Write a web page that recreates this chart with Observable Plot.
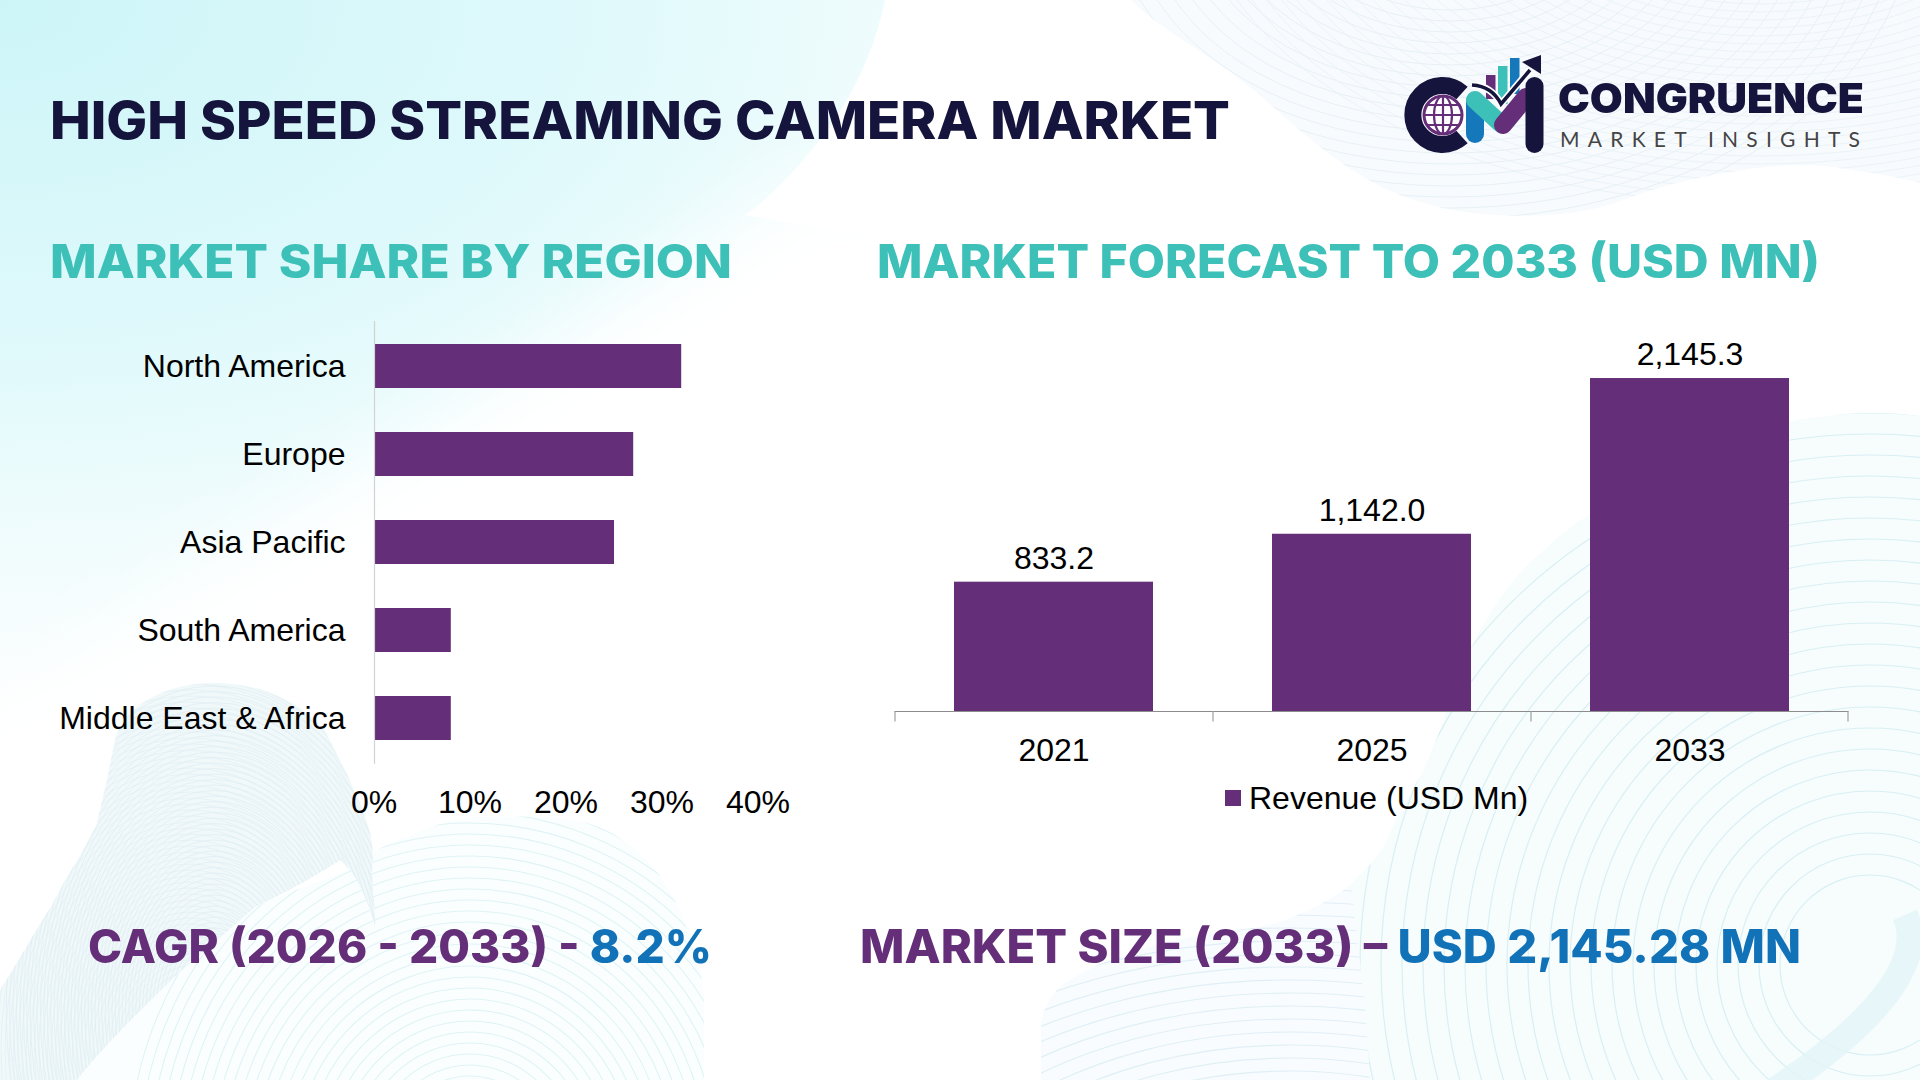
<!DOCTYPE html>
<html>
<head>
<meta charset="utf-8">
<script src="https://cdn.jsdelivr.net/npm/d3@7"></script>
<script src="https://cdn.jsdelivr.net/npm/@observablehq/plot@0.6"></script>
<style>
html,body{margin:0;padding:0;background:#fff;}
#page{position:relative;width:1920px;height:1080px;overflow:hidden;background:#fff;font-family:"Liberation Sans",Arial,sans-serif;}
#bg,#logo{position:absolute;left:0;top:0;}
.chart{position:absolute;}
.chart svg{overflow:visible;background:transparent;}
.head{position:absolute;white-space:nowrap;font-family:Inter,"Open Sans",sans-serif;font-weight:800;line-height:1;transform-origin:left center;}
#legend{position:absolute;left:1225px;top:778px;height:40px;display:flex;align-items:center;font:32px "Liberation Sans",Arial,sans-serif;color:#000;}
#legend i{display:block;width:16px;height:16px;background:#642e78;margin-right:8px;}
</style>
</head>
<body>
<div id="page">
<svg id="bg" width="1920" height="1080"></svg>
<svg id="logo" width="1920" height="1080" viewBox="0 0 1920 1080">
  <circle cx="1444" cy="115" r="23" fill="#fff"/>
  <g fill="none" stroke-linecap="round">
    <path d="M1462,93 A29.5,29.5 0 1 0 1462,137" stroke="#14143c" stroke-width="17" stroke-linecap="butt"/>
    <circle cx="1443" cy="115" r="19" stroke="#642e78" stroke-width="3"/>
    <ellipse cx="1443" cy="115" rx="9" ry="19" stroke="#642e78" stroke-width="2.2"/>
    <path d="M1424,115H1462M1427,105H1459M1427,125H1459M1443,96V134" stroke="#642e78" stroke-width="2.2"/>
  </g>
  <rect x="1486" y="75" width="9.5" height="24" fill="#642e78"/>
  <rect x="1498" y="66" width="9.5" height="38" fill="#3cc0b8"/>
  <rect x="1510" y="58" width="9.5" height="36" fill="#1478bb"/>
  <g fill="none" stroke-linecap="round">
    <path d="M1475,102V134" stroke="#1478bb" stroke-width="18"/>
    <path d="M1475,100L1501,124" stroke="#3cc0b8" stroke-width="18"/>
    <path d="M1503,125L1526,97" stroke="#642e78" stroke-width="18"/>
    <path d="M1534.5,86V144" stroke="#14143c" stroke-width="18"/>
  </g>
  <path d="M1472,85C1488,86 1496,94 1501,104L1530,70" fill="none" stroke="#fff" stroke-width="7"/>
  <path d="M1472,85C1488,86 1496,94 1501,104L1530,70" fill="none" stroke="#14143c" stroke-width="3.5"/>
  <path d="M1522,62L1541,55L1541,74Z" fill="#14143c"/>
</svg>

<div class="head" data-w="1180" data-mid="121" style="left:50px;font-size:52px;color:#14143c;">HIGH SPEED STREAMING CAMERA MARKET</div>
<div class="head" data-w="306" data-mid="98" style="left:1558px;font-size:41px;font-weight:900;color:#14143c;">CONGRUENCE</div>
<div class="head" data-w="300" data-mid="138" data-spaced="1" style="left:1560px;font-size:21px;font-weight:400;font-family:Lato,sans-serif;color:#444;">MARKET INSIGHTS</div>
<div class="head" data-w="682" data-mid="261" style="left:50px;font-size:46px;color:#3cc0b8;">MARKET SHARE BY REGION</div>
<div class="head" data-w="943" data-mid="261" style="left:877px;font-size:46px;color:#3cc0b8;">MARKET FORECAST TO 2033 (USD MN)</div>
<div class="head" data-w="624" data-mid="946" style="left:88px;font-size:46px;color:#642e78;">CAGR (2026 - 2033) - <span style="color:#1272b8">8.2%</span></div>
<div class="head" data-w="941" data-mid="946" style="left:860px;font-size:46px;color:#642e78;">MARKET SIZE (2033) – <span style="color:#1272b8">USD 2,145.28 MN</span></div>

<div id="share" class="chart" style="left:0;top:300px;"></div>
<div id="forecast" class="chart" style="left:860px;top:320px;"></div>
<div id="legend"><i></i><span>Revenue (USD Mn)</span></div>
</div>

<script>
// ---- chart data ----
const regions = ["North America", "Europe", "Asia Pacific", "South America", "Middle East & Africa"];
const regionShares = [32, 27, 25, 8, 8];
const shareTicks = [0, 10, 20, 30, 40];

const years = ["2021", "2025", "2033"];
const revenue = [833.2, 1142.0, 2145.3];

const PURPLE = "#642e78";
const FONT = '"Liberation Sans", Arial, sans-serif';

// ---- left chart ----
const shareRows = regions.map((region, i) => ({region, share: regionShares[i]}));
document.getElementById("share").appendChild(Plot.plot({
  width: 820, height: 540,
  marginLeft: 374, marginRight: 62, marginTop: 21, marginBottom: 76.3,
  style: {background: "transparent", fontFamily: FONT, overflow: "visible"},
  x: {domain: [0, 40], label: null},
  y: {domain: regions, label: null, paddingInner: 0.5, paddingOuter: 0.25},
  marks: [
    Plot.axisY({anchor: "left", tickSize: 0, tickPadding: 29, fontSize: 32, label: null, color: "#000"}),
    Plot.axisX({ticks: shareTicks, tickFormat: d => d + "%", tickSize: 0, tickPadding: 26, dx: -0.5, fontSize: 32, label: null, color: "#000"}),
    Plot.barX(shareRows, {y: "region", x: "share", fill: PURPLE}),
    Plot.ruleX([0], {stroke: "#d2d2d2", strokeWidth: 1.2})
  ]
}));

// ---- right chart ----
const revRows = years.map((year, i) => ({year, value: revenue[i]}));
const STEP = 318;
document.getElementById("forecast").appendChild(Plot.plot({
  width: 1000, height: 520,
  marginLeft: 34.5, marginRight: 11.5, marginTop: 18.5, marginBottom: 129,
  style: {background: "transparent", fontFamily: FONT, overflow: "visible"},
  x: {domain: years, label: null, paddingInner: 0.373, paddingOuter: 0.1865},
  y: {domain: [0, 2400], axis: null},
  marks: [
    Plot.axisX({tickSize: 0, tickPadding: 27, fontSize: 32, label: null, color: "#000"}),
    Plot.barY(revRows, {x: "year", y: "value", fill: PURPLE}),
    Plot.text(revRows, {x: "year", y: "value", dy: -23.5, text: d => d3.format(",.1f")(d.value), fontSize: 32, fill: "#000"}),
    Plot.ruleY([0], {stroke: "#8c8c8c", strokeWidth: 1.2}),
    Plot.ruleX(years, {x: d => d, y1: 0, y2: -68, dx: -STEP / 2, stroke: "#a0a0a0", strokeWidth: 1.2}),
    Plot.ruleX(years.slice(-1), {x: d => d, y1: 0, y2: -68, dx: STEP / 2 - 1, stroke: "#a0a0a0", strokeWidth: 1.2})
  ]
}));

// ---- fit headings to the reference widths ----
document.querySelectorAll(".head").forEach(el => {
  const target = +el.dataset.w;
  const box = el.getBoundingClientRect();
  el.style.top = (+el.dataset.mid - box.height / 2) + "px";
  if (el.dataset.spaced) {
    el.style.letterSpacing = ((target - box.width) / (el.textContent.length - 1)) + "px";
  } else {
    el.style.transform = `scaleX(${target / box.width})`;
  }
});

// ---- decorative background ----
const bg = d3.select("#bg");
const defs = bg.append("defs");
const grad = defs.append("radialGradient").attr("id", "tl").attr("gradientUnits", "userSpaceOnUse")
  .attr("cx", 0).attr("cy", 0).attr("r", 1).attr("gradientTransform", "scale(1300,760)");
grad.append("stop").attr("offset", "0").attr("stop-color", "#cdf5f8");
grad.append("stop").attr("offset", "0.45").attr("stop-color", "#dff9fb");
grad.append("stop").attr("offset", "0.7").attr("stop-color", "#f0fcfd");
grad.append("stop").attr("offset", "1").attr("stop-color", "#ffffff");
bg.append("rect").attr("width", 1000).attr("height", 780).attr("fill", "url(#tl)");
const soft = defs.append("filter").attr("id", "soft").attr("x", "-20%").attr("y", "-20%").attr("width", "140%").attr("height", "140%");
soft.append("feGaussianBlur").attr("stdDeviation", 38);
bg.append("path").attr("d", "M810,175L1100,175V900H-60V745Z").attr("fill", "#fff").attr("filter", "url(#soft)");
bg.append("path").attr("d", "M885,0C870,70 840,120 790,175C770,195 760,205 745,215L1010,260V0Z").attr("fill", "#fff");

function blob(id, d, fill) {
  defs.append("clipPath").attr("id", id).append("path").attr("d", d);
  bg.append("path").attr("d", d).attr("fill", fill);
  return bg.append("g").attr("clip-path", `url(#${id})`);
}
function rings(g, cx, cy, r0, r1, step, rx, color, width) {
  for (let r = r0; r < r1; r += step) {
    g.append("ellipse").attr("cx", cx).attr("cy", cy).attr("rx", r * rx).attr("ry", r)
      .attr("fill", "none").attr("stroke", color).attr("stroke-width", width);
  }
}
// bottom-right shapes
const br2 = blob("br2", "M1041,1080V1023C1045,1000 1060,985 1070,980C1110,955 1140,950 1176,940C1220,930 1265,930 1293,917C1320,905 1340,895 1352,883C1420,880 1700,880 1760,1080Z", "#f8fcfe");
rings(br2, 1290, 1300, 60, 420, 13, 1.5, "#e0eff6", 1.2);
const br1 = blob("br1", "M1370,1080C1365,980 1352,910 1352,883C1370,865 1380,855 1387,840C1400,810 1412,790 1422,773C1435,745 1440,730 1446,713C1455,690 1460,680 1470,650C1495,600 1520,570 1543,551C1560,535 1575,523 1592,514C1650,480 1720,440 1788,422C1830,413 1880,410 1920,416V1080Z", "#f7fcfd");
rings(br1, 1870, 965, 90, 900, 21, 1, "#d8f0f4", 1.2);
bg.append("path").attr("d", "M1905,915C1925,960 1880,1020 1775,1090").attr("fill", "none").attr("stroke", "#e2f5f8").attr("stroke-width", 26).attr("opacity", 0.8);

// top-right wave
const tr = blob("tr", "M1131,0C1160,30 1205,50 1257,93C1300,130 1350,180 1414,200C1470,220 1570,222 1623,200C1690,175 1780,160 1832,167C1870,172 1900,178 1920,183V0Z", "#f8fbfd");
rings(tr, 1450, -90, 100, 330, 11, 1.45, "#e6f0f6", 1);
rings(tr, 1760, -130, 110, 340, 8, 1.7, "#e9f2f7", 0.9);

// bottom-left ribbon with a fine mesh
const blPale = blob("bl2", "M352,867C375,850 390,842 408,837C440,820 475,815 510,817C550,815 590,820 612,833C650,855 668,885 678,907C695,945 704,980 704,1000V1080H77C110,1040 150,1000 179,973C210,945 235,925 255,907C290,890 330,880 352,867Z", "#fbfefe");
rings(blPale, 470, 1160, 40, 360, 11, 0.95, "#dff3f6", 1.1);
const blMesh = blob("bl1", "M0,990C20,960 35,930 51,907C70,870 85,850 97,823C105,790 110,765 115,740C125,705 165,683 214,683C265,683 305,705 326,733C345,770 358,795 365,817C372,835 374,850 372,870C372,890 376,910 375,927C368,900 358,875 340,860C310,880 280,895 255,907C235,925 205,950 179,973C140,1010 100,1050 77,1080H0Z", "#f1f8fa");
rings(blMesh, 214, 1010, 60, 340, 5.5, 0.62, "#dcedf2", 0.7);
rings(blMesh, 190, 1050, 60, 380, 6, 0.7, "#e0eff4", 0.7);
</script>
</body>
</html>
